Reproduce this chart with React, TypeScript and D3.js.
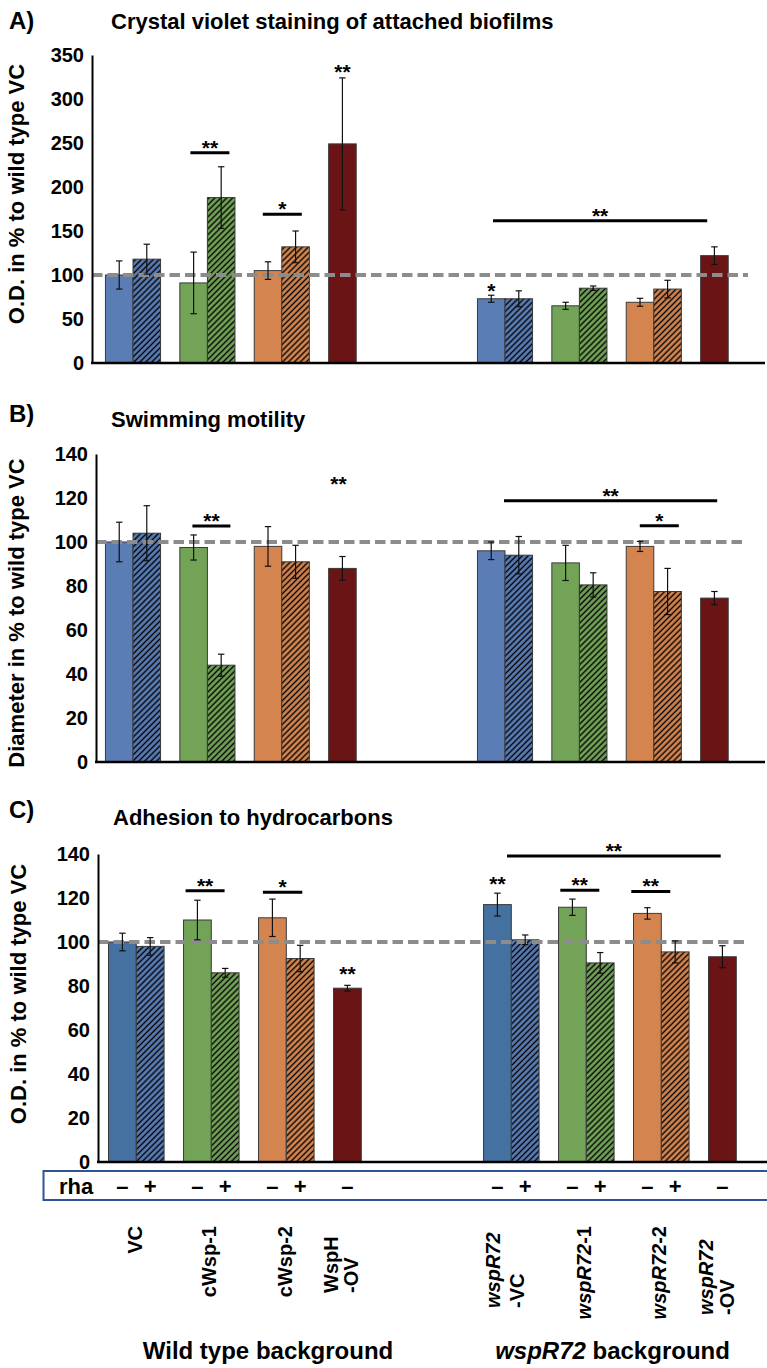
import * as d3 from 'd3';
import React, { useEffect, useRef } from 'react';

// Categories
const strains = ['VC', 'cWsp-1', 'cWsp-2', 'WspH-OV', 'wspR72-VC', 'wspR72-1', 'wspR72-2', 'wspR72-OV'];
const slots = ['VC', 'cWsp-1', 'cWsp-2', 'WspH-OV', 'gap', 'wspR72-VC', 'wspR72-1', 'wspR72-2', 'wspR72-OV'];
const strainColor = ['blue', 'green', 'orange', 'red', 'blue', 'green', 'orange', 'red'];
const rhaLevels = ['–', '+'];
const categoryLines = [['VC'], ['cWsp-1'], ['cWsp-2'], ['WspH', '-OV'], ['wspR72', '-VC'], ['wspR72-1'], ['wspR72-2'], ['wspR72', '-OV']];
const groupTitles = ['Wild type background', 'wspR72 background'];

// A) crystal violet (% of wild type VC)
const cvMinus = [100, 91, 105, 249, 73, 65, 69, 122];
const cvMinusErr = [16, 35, 10, 75, 4, 4, 4.5, 10];
const cvPlus = [118, 188, 132, null, 73, 85, 84, null];
const cvPlusErr = [17, 35, 18, null, 9, 2.5, 10, null];
const cvTicks = [0, 50, 100, 150, 200, 250, 300, 350];

// B) swimming motility
const swimMinus = [100, 97.5, 98, 88, 96, 90.5, 98, 74.5];
const swimMinusErr = [9, 5.7, 9, 5.4, 4, 8, 2.3, 3];
const swimPlus = [104, 44, 91, null, 94, 80.5, 77.5, null];
const swimPlusErr = [12.5, 5, 7.5, null, 8.5, 5.5, 10.5, null];
const swimTicks = [0, 20, 40, 60, 80, 100, 120, 140];

// C) adhesion to hydrocarbons
const mathMinus = [100, 110, 111, 79, 117, 115.8, 113, 93.3];
const mathMinusErr = [4, 9, 8.5, 1.3, 5.2, 3.7, 2.6, 5];
const mathPlus = [98, 86, 92.5, null, 101, 90.5, 95.5, null];
const mathPlusErr = [4, 2, 6, null, 2.2, 4.7, 5, null];
const mathTicks = [0, 20, 40, 60, 80, 100, 120, 140];

// significance marks (y in data units)
const cvNotes = [
	{ kind: 'pair', strain: 'cWsp-1', y: 239, d1: -17, d2: 22, text: '**' },
	{ kind: 'pair', strain: 'cWsp-2', y: 169, d1: -19, d2: 20, text: '*' },
	{ kind: 'star', strain: 'WspH-OV', y: 336, dx: 0, text: '**' },
	{ kind: 'star', strain: 'wspR72-VC', y: 87.5, dx: 0, text: '*' },
	{ kind: 'span', strain: 'wspR72-VC', to: 'wspR72-OV', y: 161.7, d1: -12, d2: -21, text: '**' },
];
const swimNotes = [
	{ kind: 'pair', strain: 'cWsp-1', y: 107.3, d1: -15, d2: 23, text: '**' },
	{ kind: 'star', strain: 'WspH-OV', y: 128.2, dx: -4, text: '**' },
	{ kind: 'span', strain: 'wspR72-VC', to: 'wspR72-OV', y: 118.8, d1: -1, d2: -11, text: '**' },
	{ kind: 'pair', strain: 'wspR72-2', y: 107.4, d1: -14, d2: 25, text: '*' },
];
const mathNotes = [
	{ kind: 'pair', strain: 'cWsp-1', y: 123.3, d1: -25.7, d2: 13.3, text: '**' },
	{ kind: 'pair', strain: 'cWsp-2', y: 122.6, d1: -23.4, d2: 16, text: '*' },
	{ kind: 'star', strain: 'WspH-OV', y: 87.3, dx: 0, text: '**' },
	{ kind: 'star', strain: 'wspR72-VC', y: 128.2, dx: 0, text: '**' },
	{ kind: 'span', strain: 'wspR72-VC', to: 'wspR72-OV', y: 139.1, d1: -4.3, d2: -15.6, text: '**' },
	{ kind: 'pair', strain: 'wspR72-1', y: 123.5, d1: -26, d2: 13, text: '**' },
	{ kind: 'pair', strain: 'wspR72-2', y: 123, d1: -30, d2: 9, text: '**' },
];

const FONT = "'Liberation Sans', Arial, Helvetica, sans-serif";
const palette = {
	blue: '#5B7DB5',
	blueDark: '#44719F',
	green: '#72A357',
	orange: '#D4854F',
	red: '#6B1416',
};

const panels = [
	{
		letter: 'A)', title: 'Crystal violet staining of attached biofilms', yLabel: 'O.D. in % to wild type VC',
		minus: cvMinus, minusErr: cvMinusErr, plus: cvPlus, plusErr: cvPlusErr, ticks: cvTicks, max: 350, notes: cvNotes,
		top: 55, bottom: 363, axisX: 92, x0: 95.8, x1: 765.4, axisEnd: 765, dashEnd: 748,
		letterY: 29, titleX: 111, titleY: 28.5, labelX: 24, labelY: 194, minusBlue: palette.blue,
	},
	{
		letter: 'B)', title: 'Swimming motility', yLabel: 'Diameter in % to wild type VC',
		minus: swimMinus, minusErr: swimMinusErr, plus: swimPlus, plusErr: swimPlusErr, ticks: swimTicks, max: 140, notes: swimNotes,
		top: 454, bottom: 762, axisX: 96, x0: 95.8, x1: 765.4, axisEnd: 765, dashEnd: 742,
		letterY: 422, titleX: 111, titleY: 427, labelX: 24, labelY: 613, minusBlue: palette.blue,
	},
	{
		letter: 'C)', title: 'Adhesion to hydrocarbons', yLabel: 'O.D. in % to wild type VC',
		minus: mathMinus, minusErr: mathMinusErr, plus: mathPlus, plusErr: mathPlusErr, ticks: mathTicks, max: 140, notes: mathNotes,
		top: 854, bottom: 1162, axisX: 98, x0: 98.8, x1: 773.8, axisEnd: 767, dashEnd: 745,
		letterY: 818, titleX: 113, titleY: 825, labelX: 26, labelY: 994, minusBlue: palette.blueDark,
	},
];

// C panel x scale is reused for the rha row and labels
const footerX = d3.scaleBand().domain(slots).range([98.8, 773.8]);
const labelLayout = [
	{ dx: [5.4], y: 1226, anchor: 'end' },
	{ dx: [4.5], y: 1226, anchor: 'end' },
	{ dx: [6], y: 1226, anchor: 'end' },
	{ dx: [-23, -3], y: 1293, anchor: 'start' },
	{ dx: [-11, 13], y: 1308, anchor: 'start' },
	{ dx: [5], y: 1226, anchor: 'end' },
	{ dx: [5], y: 1226, anchor: 'end' },
	{ dx: [-23, -2], y: 1315, anchor: 'start' },
];

const richText = (sel, str) => {
	const parts = str.split(/(wspR72)/).filter((s) => s.length);
	parts.forEach((part) => {
		sel.append('tspan').attr('font-style', part === 'wspR72' ? 'italic' : 'normal').text(part);
	});
};

function App() {
	const chart = useRef(null);

	const drawPanel = (svg, p) => {
		const g = svg.append('g');
		const x = d3.scaleBand().domain(slots).range([p.x0, p.x1]);
		const xLevel = d3.scaleBand().domain(rhaLevels).range([0, x.bandwidth()]).paddingOuter(0.35);
		const y = d3.scaleLinear().domain([0, p.max]).range([p.bottom, p.top]);
		const pairCenter = (s) => x(s) + x.bandwidth() / 2;
		const barCenter = (s, lv) => x(s) + xLevel(lv) + xLevel.bandwidth() / 2;

		// titles
		g.append('text').attr('x', 9).attr('y', p.letterY).attr('font-size', 24).text(p.letter);
		g.append('text').attr('x', p.titleX).attr('y', p.titleY).attr('font-size', 22).text(p.title);
		g.append('text')
			.attr('transform', `translate(${p.labelX}, ${p.labelY}) rotate(-90)`)
			.attr('text-anchor', 'middle')
			.attr('font-size', 22)
			.text(p.yLabel);

		// bars
		const rows = strains.flatMap((s, i) =>
			rhaLevels.map((lv, j) => ({
				strain: s,
				level: lv,
				value: j === 0 ? p.minus[i] : p.plus[i],
				err: j === 0 ? p.minusErr[i] : p.plusErr[i],
				color: strainColor[i],
			}))
		).filter((d) => d.value != null);

		const fillOf = (d) => {
			if (d.level === '+') return `url(#hatch-${d.color})`;
			if (d.color === 'blue') return p.minusBlue;
			return palette[d.color];
		};

		g.append('g')
			.selectAll('rect')
			.data(rows)
			.enter()
			.append('rect')
			.attr('x', (d) => x(d.strain) + xLevel(d.level))
			.attr('y', (d) => y(d.value))
			.attr('width', xLevel.bandwidth())
			.attr('height', (d) => y(0) - y(d.value))
			.attr('fill', fillOf)
			.attr('stroke', '#3a3a3a')
			.attr('stroke-width', 1);

		// 100 % reference
		g.append('line')
			.attr('x1', p.axisX)
			.attr('x2', p.dashEnd)
			.attr('y1', y(100))
			.attr('y2', y(100))
			.attr('stroke', '#8c8c8c')
			.attr('stroke-width', 3.8)
			.attr('stroke-dasharray', '10.5,5');

		// error bars
		const eb = g.append('g').attr('stroke', '#111').attr('stroke-width', 1.2);
		rows.forEach((d) => {
			const cx = barCenter(d.strain, d.level);
			eb.append('line').attr('x1', cx).attr('x2', cx).attr('y1', y(d.value + d.err)).attr('y2', y(d.value - d.err));
			[d.value + d.err, d.value - d.err].forEach((v) => {
				eb.append('line').attr('x1', cx - 3.2).attr('x2', cx + 3.2).attr('y1', y(v)).attr('y2', y(v));
			});
		});

		// axes
		const leftAxis = d3.axisLeft(y).tickValues(p.ticks).tickSize(0).tickSizeOuter(0).tickPadding(8);
		const ax = g.append('g').attr('transform', `translate(${p.axisX}, 0)`).call(leftAxis);
		ax.select('.domain').attr('stroke', '#000').attr('stroke-width', 2);
		ax.selectAll('text').attr('font-family', FONT).attr('font-weight', 'bold').attr('font-size', 20).attr('fill', '#000');

		g.append('line')
			.attr('x1', p.axisX - 1)
			.attr('x2', p.axisEnd)
			.attr('y1', y(0))
			.attr('y2', y(0))
			.attr('stroke', '#000')
			.attr('stroke-width', 2.5);

		// significance
		p.notes.forEach((n) => {
			let cx;
			if (n.kind === 'star') {
				cx = barCenter(n.strain, '–') + n.dx;
				g.append('text')
					.attr('x', cx)
					.attr('y', y(n.y) + 11.5)
					.attr('text-anchor', 'middle')
					.attr('font-size', 21)
					.text(n.text);
				return;
			}
			const xa = pairCenter(n.strain) + n.d1;
			const xb = pairCenter(n.kind === 'span' ? n.to : n.strain) + n.d2;
			g.append('line')
				.attr('x1', xa)
				.attr('x2', xb)
				.attr('y1', y(n.y))
				.attr('y2', y(n.y))
				.attr('stroke', '#000')
				.attr('stroke-width', 3);
			g.append('text')
				.attr('x', (xa + xb) / 2)
				.attr('y', y(n.y) + 2)
				.attr('text-anchor', 'middle')
				.attr('font-size', 21)
				.text(n.text);
		});
	};

	const drawFooter = (svg) => {
		const g = svg.append('g');
		const xLevel = d3.scaleBand().domain(rhaLevels).range([0, footerX.bandwidth()]).paddingOuter(0.35);

		g.append('rect')
			.attr('x', 43.5)
			.attr('y', 1171)
			.attr('width', 740)
			.attr('height', 29)
			.attr('fill', 'none')
			.attr('stroke', '#2F5496')
			.attr('stroke-width', 2);
		g.append('text').attr('x', 59).attr('y', 1194).attr('font-size', 22).text('rha');

		strains.forEach((s, i) => {
			const levels = cvPlus[i] == null ? ['–'] : rhaLevels;
			levels.forEach((lv) => {
				g.append('text')
					.attr('x', footerX(s) + xLevel(lv) + xLevel.bandwidth() / 2)
					.attr('y', 1194)
					.attr('text-anchor', 'middle')
					.attr('font-size', 22)
					.text(lv);
			});

			const lay = labelLayout[i];
			const pc = footerX(s) + footerX.bandwidth() / 2;
			categoryLines[i].forEach((line, k) => {
				const t = g.append('text')
					.attr('transform', `translate(${pc + lay.dx[k]}, ${lay.y}) rotate(-90)`)
					.attr('text-anchor', lay.anchor)
					.attr('font-size', 20);
				richText(t, line);
			});
		});

		const wt = g.append('text').attr('x', 268).attr('y', 1359).attr('text-anchor', 'middle').attr('font-size', 24);
		richText(wt, groupTitles[0]);
		const mt = g.append('text').attr('x', 612.5).attr('y', 1359).attr('text-anchor', 'middle').attr('font-size', 24);
		richText(mt, groupTitles[1]);
	};

	useEffect(() => {
		const svg = d3.select(chart.current);
		svg.selectAll('*').remove();
		svg.attr('font-family', FONT).attr('font-weight', 'bold');

		const defs = svg.append('defs');
		['blue', 'green', 'orange'].forEach((k) => {
			const pat = defs
				.append('pattern')
				.attr('id', `hatch-${k}`)
				.attr('patternUnits', 'userSpaceOnUse')
				.attr('width', 4.2)
				.attr('height', 4.2)
				.attr('patternTransform', 'rotate(45)');
			pat.append('rect').attr('width', 4.2).attr('height', 4.2).attr('fill', palette[k]);
			pat.append('line').attr('x1', 2.1).attr('x2', 2.1).attr('y1', 0).attr('y2', 4.2).attr('stroke', '#000').attr('stroke-width', 1.4);
		});

		panels.forEach((p) => drawPanel(svg, p));
		drawFooter(svg);
	}, []);

	return (
		<svg
			ref={chart}
			width={767}
			height={1368}
			style={{ position: 'absolute', left: 0, top: 0, background: '#fff' }}
		></svg>
	);
}

export default App;
